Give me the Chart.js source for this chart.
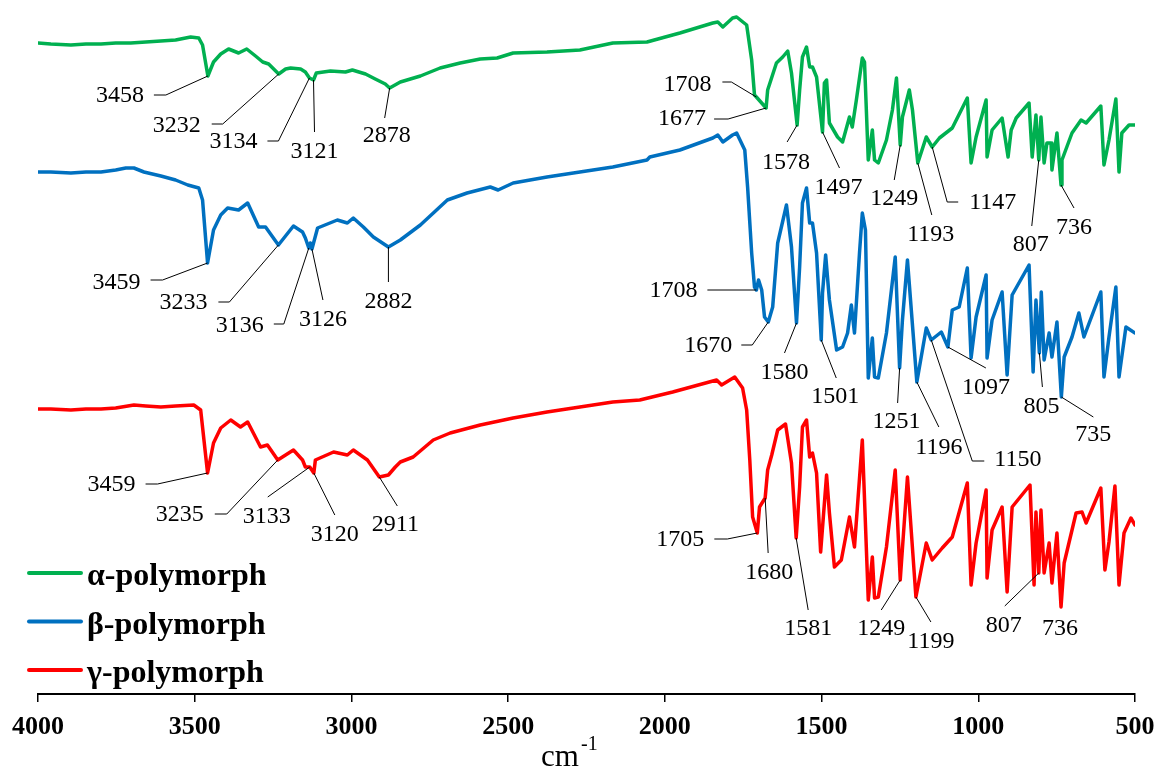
<!DOCTYPE html>
<html>
<head>
<meta charset="utf-8">
<script src="https://cdn.jsdelivr.net/npm/chart.js@4.4.0/dist/chart.umd.min.js"></script>
<style>
  html, body { margin: 0; padding: 0; background: #fff; }
</style>
</head>
<body>
<canvas id="ir" width="1159" height="772"></canvas>
<script>
  // series names
  var seriesLabels = ['α-polymorph', 'β-polymorph', 'γ-polymorph'];
  var seriesColors = ['#00B050', '#0070C0', '#FF0000'];
  var xTicks = [4000, 3500, 3000, 2500, 2000, 1500, 1000, 500];

  // alpha spectrum (wavenumber, transmittance a.u. with offset)
  var alphaWn = [4000,3959,3895,3847,3799,3752,3704,3656,3608,3561,3513,3487,3475,3458,3440,3417,3392,3360,3334,3306,
    3283,3264,3232,3210,3194,3162,3147,3134,3121,3112,3067,3019,2997,2955,2924,2892,2878,2844,2780,2717,
    2653,2589,2535,2484,2376,2271,2166,2057,1952,1847,1831,1815,1784,1771,1739,1723,1714,1708,1677,1672,
    1644,1624,1608,1596,1578,1570,1561,1548,1538,1529,1516,1497,1491,1484,1475,1449,1433,1411,1402,1389,
    1370,1363,1351,1338,1331,1319,1293,1274,1261,1249,1242,1220,1210,1193,1166,1147,1124,1083,1035,1023,
    1007,975,972,956,924,905,895,879,838,828,816,807,800,790,781,768,765,749,736,733,
    701,672,656,609,599,583,561,551,542,519,500];
  var alphaT = [65.4,65.3,65.2,65.3,65.3,65.4,65.4,65.5,65.6,65.7,66.0,65.9,65.2,62.1,63.5,64.3,64.8,64.4,64.8,64.1,
    63.5,63.3,62.3,62.8,62.9,62.8,62.5,61.9,61.7,62.4,62.6,62.5,62.7,62.3,61.8,61.3,60.9,61.5,62.1,62.9,
    63.4,63.8,63.9,64.4,64.5,64.7,65.4,65.5,66.4,67.4,67.5,67.0,67.9,68.0,67.2,63.7,60.2,60.0,58.9,60.7,
    63.4,64.0,64.6,62.4,57.2,60.7,64.0,65.0,63.0,63.0,62.0,56.5,61.4,61.7,57.4,56.0,55.5,58.0,57.0,59.7,
    63.9,63.5,53.7,56.7,53.7,53.4,55.7,58.7,61.9,55.2,58.0,60.7,58.7,53.4,56.0,55.0,55.9,56.9,59.9,53.4,
    56.0,59.7,54.0,56.7,57.9,54.0,56.7,57.9,59.4,54.0,58.2,53.7,58.0,53.4,55.4,55.4,52.7,56.4,51.2,53.7,
    56.4,57.7,57.4,59.1,53.2,55.7,59.8,52.5,56.4,57.2,57.2];

  // beta spectrum
  var betaWn = [4000,3959,3895,3847,3799,3752,3720,3694,3662,3608,3561,3522,3487,3475,3459,3440,3417,3395,3360,3331,
    3296,3274,3233,3185,3156,3147,3136,3131,3126,3108,3045,3013,2994,2962,2930,2882,2844,2780,2694,2631,
    2557,2532,2484,2376,2271,2166,2057,2048,1952,1847,1831,1815,1784,1771,1745,1736,1723,1714,1708,1701,
    1691,1682,1670,1656,1640,1612,1596,1580,1570,1561,1548,1538,1529,1516,1501,1497,1487,1475,1452,1433,
    1417,1405,1395,1379,1370,1360,1351,1338,1331,1319,1293,1265,1251,1242,1226,1196,1166,1150,1118,1097,
    1083,1061,1035,1023,1007,975,972,956,924,908,892,838,825,816,805,799,790,774,765,749,
    735,726,701,679,663,609,599,583,561,551,529,500];
  var betaT = [52.5,52.5,52.4,52.5,52.5,52.7,52.9,52.9,52.5,52.1,51.7,51.2,50.9,49.7,43.4,46.7,48.2,48.9,48.7,49.4,
    47.0,47.0,45.2,47.1,46.5,45.9,44.9,45.4,44.8,46.9,47.7,47.4,47.9,47.0,46.0,45.0,45.7,47.2,49.7,50.4,
    51.0,50.7,51.4,52.0,52.5,53.0,53.7,54.0,54.7,55.9,56.2,55.5,56.2,56.4,54.7,51.0,44.4,41.0,40.7,41.7,
    40.7,38.0,37.5,39.0,45.4,49.2,45.0,37.4,43.0,49.4,50.9,47.4,47.4,44.4,35.7,40.4,44.2,39.7,34.7,35.0,
    36.4,39.2,36.4,44.4,48.4,46.7,31.9,35.9,32.0,31.9,36.4,44.0,32.9,37.7,43.7,31.5,36.9,35.7,36.5,35.0,
    38.7,39.0,42.9,33.9,38.0,42.2,33.9,37.7,40.5,32.2,40.2,43.2,32.5,39.7,34.4,40.5,33.7,36.4,34.0,37.5,
    30.0,34.0,36.0,38.4,36.0,40.5,32.0,36.0,41.0,32.0,37.0,36.4];

  // gamma spectrum
  var gammaWn = [4000,3959,3895,3847,3799,3752,3694,3656,3608,3561,3503,3481,3459,3440,3417,3385,3354,3331,3290,3268,
    3235,3185,3156,3147,3133,3120,3115,3057,3013,2994,2949,2911,2882,2860,2844,2803,2739,2685,2589,2484,
    2376,2271,2166,2080,1975,1835,1819,1777,1752,1739,1729,1720,1705,1698,1680,1672,1659,1640,1615,1596,
    1581,1570,1561,1548,1538,1529,1516,1503,1484,1475,1459,1437,1411,1395,1370,1351,1338,1331,1319,1293,
    1265,1249,1226,1199,1166,1147,1115,1083,1035,1023,1007,975,972,956,924,908,892,835,822,816,
    807,800,790,774,765,749,736,726,688,669,656,609,596,583,564,551,535,513,500];
  var gammaT = [28.8,28.8,28.7,28.8,28.8,28.9,29.2,29.1,29.0,29.1,29.2,28.7,22.4,25.4,26.9,27.7,27.0,27.5,25.0,25.2,
    23.7,24.7,23.7,23.0,23.0,22.4,23.7,24.5,24.2,24.7,23.7,22.0,22.2,23.0,23.5,24.0,25.7,26.4,27.2,27.9,
    28.5,29.0,29.5,29.7,30.5,31.7,31.2,32.0,30.9,28.7,23.7,18.0,16.4,19.0,19.9,22.7,24.2,26.7,27.3,23.4,
    15.9,21.0,27.0,27.7,24.0,24.4,22.4,14.5,22.2,18.4,13.0,13.7,18.0,15.0,25.7,9.7,14.0,9.9,10.0,15.0,
    22.7,11.7,22.0,10.0,15.4,13.7,14.9,16.0,21.4,11.2,15.4,20.7,11.9,16.7,19.0,10.5,19.0,21.2,11.2,18.5,
    12.4,18.7,12.4,15.4,11.4,16.4,9.0,13.4,18.4,18.5,17.4,20.9,12.7,15.5,21.1,11.2,16.4,17.9,17.2];

  // labelled peaks (cm-1)
  var alphaPeaks = [3458,3232,3134,3121,2878,1708,1677,1578,1497,1249,1193,1147,807,736];
  var betaPeaks = [3459,3233,3136,3126,2882,1708,1670,1580,1501,1251,1196,1150,1097,805,735];
  var gammaPeaks = [3459,3235,3133,3120,2911,1705,1680,1581,1249,1199,807,736];

  // label placement relative to the peak: [dx, dy, align, leader bends]
  var alphaLabelPos = [
    [-64,20,'right',[[-54,19],[-42,19]]],
    [-78,52,'right',[[-67,50],[-56,50]]],
    [-52,64,'right',[[-42,63],[-31,63]]],
    [1,72,'center',[[1,52]]],
    [-3,48,'center',[[-5,30]]],
    [-45,-12,'right',[[-34,-15],[-25,-15]]],
    [-60,11,'right',[[-52,11],[-38,11]]],
    [-11,38,'center',[[-10,17]]],
    [16,56,'center',[[17,36]]],
    [-6,54,'center',[[-6,35]]],
    [13,72,'center',[[14,52]]],
    [37,56,'left',[[26,55],[15,55]]],
    [-8,85,'center',[[-7,66]]],
    [13,43,'center',[[13,23]]]
  ];
  var betaLabelPos = [
    [-67,20,'right',[[-57,17],[-45,17]]],
    [-71,58,'right',[[-60,57],[-49,57]]],
    [-45,78,'right',[[-35,76],[-25,76]]],
    [11,71,'center',[[11,51]]],
    [0,55,'center',[[0,35]]],
    [-59,1,'right',[[-49,0]]],
    [-36,24,'right',[[-27,23],[-16,23]]],
    [-12,50,'center',[[-12,30]]],
    [14,57,'center',[[15,38]]],
    [-3,54,'center',[[-2,35]]],
    [22,66,'center',[[22,45]]],
    [63,120,'left',[[53,121],[41,121]]],
    [38,41,'center',[[38,21]]],
    [2,54,'center',[[3,34]]],
    [32,38,'center',[[32,20]]]
  ];
  var gammaLabelPos = [
    [-72,12,'right',[[-62,11],[-50,11]]],
    [-74,55,'right',[[-63,54],[-51,54]]],
    [-43,50,'center',[[-42,30]]],
    [21,62,'center',[[21,42]]],
    [16,48,'center',[[18,29]]],
    [-53,7,'right',[[-43,6],[-30,6]]],
    [4,75,'center',[[3,55]]],
    [12,91,'center',[[12,72]]],
    [-19,49,'center',[[-19,30]]],
    [15,45,'center',[[15,25]]],
    [-35,53,'center',[[-34,33]]],
    [-1,22,'center',[]]
  ];

  function zip(xs, ys) {
    return xs.map(function (x, i) { return { x: x, y: ys[i] }; });
  }

  // value of a spectrum at a given wavenumber (linear between points)
  function valueAt(pts, wn) {
    for (var i = 0; i < pts.length - 1; i++) {
      var a = pts[i], b = pts[i + 1];
      if (wn <= a.x && wn >= b.x) {
        var t = (a.x - wn) / (a.x - b.x);
        return a.y + t * (b.y - a.y);
      }
    }
    return pts[pts.length - 1].y;
  }

  var peaks = [alphaPeaks, betaPeaks, gammaPeaks];
  var labelPos = [alphaLabelPos, betaLabelPos, gammaLabelPos];

  var serif = '"Liberation Serif", "Times New Roman", serif';

  var irExtras = {
    id: 'irExtras',
    afterDraw: function (chart) {
      var ctx = chart.ctx;
      var xs = chart.scales.x, ys = chart.scales.y;
      ctx.save();

      // peak labels + leader lines
      ctx.font = '24px ' + serif;
      ctx.fillStyle = '#000';
      ctx.strokeStyle = '#000';
      ctx.lineWidth = 1;
      ctx.textBaseline = 'middle';
      chart.data.datasets.forEach(function (ds, s) {
        peaks[s].forEach(function (wn, k) {
          var p = labelPos[s][k];
          var ax = xs.getPixelForValue(wn);
          var ay = ys.getPixelForValue(valueAt(ds.data, wn));
          if (p[3].length) {
            ctx.beginPath();
            ctx.moveTo(ax + p[3][0][0], ay + p[3][0][1]);
            for (var j = 1; j < p[3].length; j++) ctx.lineTo(ax + p[3][j][0], ay + p[3][j][1]);
            ctx.lineTo(ax, ay);
            ctx.stroke();
          }
          ctx.textAlign = p[2];
          ctx.fillText(String(wn), ax + p[0], ay + p[1]);
        });
      });

      // legend
      ctx.textAlign = 'left';
      ctx.textBaseline = 'alphabetic';
      ctx.font = 'bold 32px ' + serif;
      chart.data.datasets.forEach(function (ds, s) {
        var ly = 573 + s * 48.5;
        ctx.strokeStyle = ds.borderColor;
        ctx.lineWidth = 4;
        ctx.lineCap = 'round';
        ctx.beginPath();
        ctx.moveTo(29, ly);
        ctx.lineTo(81, ly);
        ctx.stroke();
        ctx.fillStyle = '#000';
        ctx.fillText(ds.label, 87, ly + 12);
      });

      // axis title cm-1
      ctx.font = '31px ' + serif;
      ctx.fillText('cm', 541, 766);
      ctx.font = '20px ' + serif;
      ctx.fillText('-1', 581, 750);
      ctx.restore();
    }
  };

  var ctx = document.getElementById('ir').getContext('2d');
  var irChart = new Chart(ctx, {
    type: 'line',
    data: {
      datasets: [
        { label: seriesLabels[0], data: zip(alphaWn, alphaT), borderColor: seriesColors[0] },
        { label: seriesLabels[1], data: zip(betaWn, betaT), borderColor: seriesColors[1] },
        { label: seriesLabels[2], data: zip(gammaWn, gammaT), borderColor: seriesColors[2] }
      ]
    },
    options: {
      responsive: false,
      animation: false,
      devicePixelRatio: 1,
      layout: { padding: { left: 38, right: 24, top: 0, bottom: 0 } },
      elements: {
        line: { borderWidth: 3.5, tension: 0, borderJoinStyle: 'round', borderCapStyle: 'round' },
        point: { radius: 0 }
      },
      plugins: {
        legend: { display: false },
        tooltip: { enabled: false }
      },
      scales: {
        x: {
          type: 'linear',
          reverse: true,
          min: 500,
          max: 4000,
          afterBuildTicks: function (scale) {
            scale.ticks = xTicks.map(function (v) { return { value: v }; });
          },
          afterFit: function (scale) {
            scale.height = 78;
            scale.paddingLeft = 0;
            scale.paddingRight = 0;
          },
          grid: {
            display: true,
            drawOnChartArea: false,
            drawTicks: true,
            tickLength: 8,
            color: '#000',
            lineWidth: 1.5
          },
          border: { display: true, color: '#000', width: 2 },
          ticks: {
            color: '#000',
            padding: 10,
            maxRotation: 0,
            autoSkip: false,
            font: { family: serif, size: 26, weight: 'bold' },
            callback: function (v) { return String(v); }
          }
        },
        y: {
          display: false,
          min: 0.3,
          max: 69.7
        }
      }
    },
    plugins: [irExtras]
  });
</script>
</body>
</html>
